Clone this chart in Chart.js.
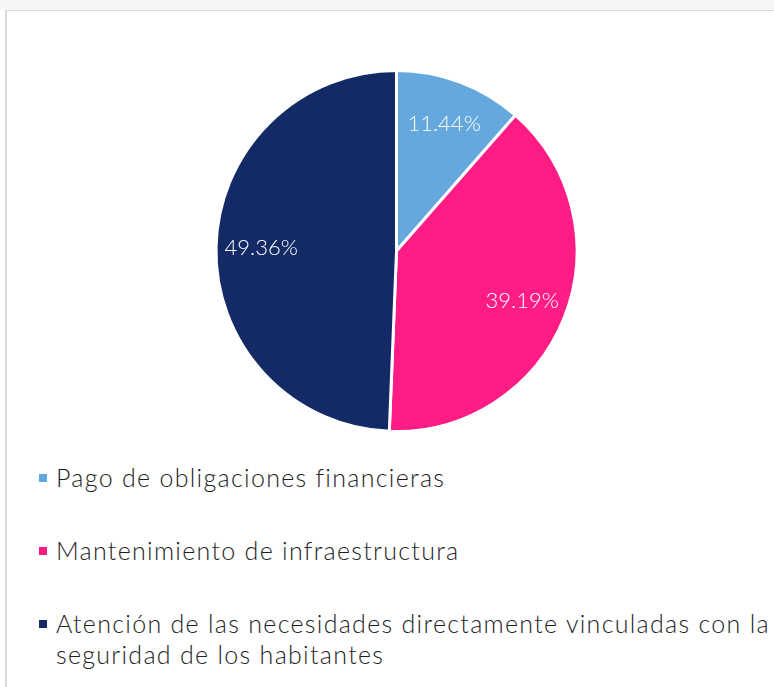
<!DOCTYPE html>
<html lang="es">
<head>
<meta charset="utf-8">
<title>Distribución</title>
<script src="https://cdn.jsdelivr.net/npm/chart.js@4.4.1/dist/chart.umd.min.js"></script>
<style>
  html, body { margin: 0; padding: 0; background: #fff; }
  body { width: 774px; height: 687px; position: relative; overflow: hidden; font-family: "Lato", "Open Sans", sans-serif; }
  .strip { position: absolute; left: 0; top: 0; width: 774px; height: 10px; background: #f6f6f6; }
  .panel {
    position: absolute; left: 5px; top: 10px; right: 0; bottom: 0;
    border-top: 1px solid #d9d9d9; border-left: 2px solid #d9d9d9; background: #fff;
  }
  #pieWrap { position: absolute; left: 0; top: 0; width: 774px; height: 450px; }
  #legend { position: absolute; left: 39px; top: 462px; width: 740px; margin: 0; padding: 0; list-style: none; }
  #legend li { display: flex; align-items: flex-start; margin-bottom: 42px; }
  #legend .box { flex: 0 0 8px; height: 8px; margin-top: 12px; margin-right: 9px; }
  #legend .txt { font-size: 25px; font-weight: 300; letter-spacing: 1.3px; line-height: 31px; color: #1e1e1e; }
</style>
</head>
<body>
<div class="strip"></div>
<div class="panel"></div>
<div id="pieWrap"><canvas id="pieChart"></canvas></div>
<ul id="legend"></ul>

<script>
/* ---------------------------------------------------------
   Data
--------------------------------------------------------- */
const categories = [
  "Pago de obligaciones financieras",
  "Mantenimiento de infraestructura",
  "Atención de las necesidades directamente vinculadas con la seguridad de los habitantes",
];
const shares = [11.44, 39.19, 49.36];
const sliceColors = ["#65a8de", "#ff1c84", "#132a66"];

const FONT = "Lato";

/* ---------------------------------------------------------
   Percentage labels inside the slices
--------------------------------------------------------- */
const sliceLabels = {
  id: "sliceLabels",
  afterDatasetsDraw(chart) {
    const { ctx } = chart;
    const meta = chart.getDatasetMeta(0);
    ctx.save();
    ctx.fillStyle = "#ffffff";
    ctx.font = `300 22px ${FONT}`;
    ctx.textAlign = "center";
    ctx.textBaseline = "middle";
    meta.data.forEach((arc, i) => {
      const { x, y, startAngle, endAngle, outerRadius } = arc.getProps(
        ["x", "y", "startAngle", "endAngle", "outerRadius"], true
      );
      const mid = (startAngle + endAngle) / 2;
      const r = outerRadius * 0.75;
      ctx.fillText(shares[i].toFixed(2) + "%", x + Math.cos(mid) * r, y + Math.sin(mid) * r);
    });
    ctx.restore();
  },
};

/* ---------------------------------------------------------
   Pie chart
--------------------------------------------------------- */
const chart = new Chart(document.getElementById("pieChart").getContext("2d"), {
  type: "pie",
  data: {
    labels: categories,
    datasets: [
      {
        data: shares,
        backgroundColor: sliceColors,
        borderColor: "#ffffff",
        borderWidth: 3,
      },
    ],
  },
  options: {
    responsive: true,
    maintainAspectRatio: false,
    animation: false,
    layout: { padding: { left: 214, right: 195, top: 69, bottom: 17 } },
    plugins: {
      legend: { display: false },
      tooltip: { enabled: false },
    },
  },
  plugins: [sliceLabels],
});

/* ---------------------------------------------------------
   HTML legend built from the chart's own legend items
--------------------------------------------------------- */
const legendEl = document.getElementById("legend");
chart.options.plugins.legend.labels.generateLabels(chart).forEach((item) => {
  const li = document.createElement("li");
  const box = document.createElement("span");
  box.className = "box";
  box.style.background = item.fillStyle;
  const txt = document.createElement("span");
  txt.className = "txt";
  txt.textContent = item.text;
  li.appendChild(box);
  li.appendChild(txt);
  legendEl.appendChild(li);
});
</script>
</body>
</html>
